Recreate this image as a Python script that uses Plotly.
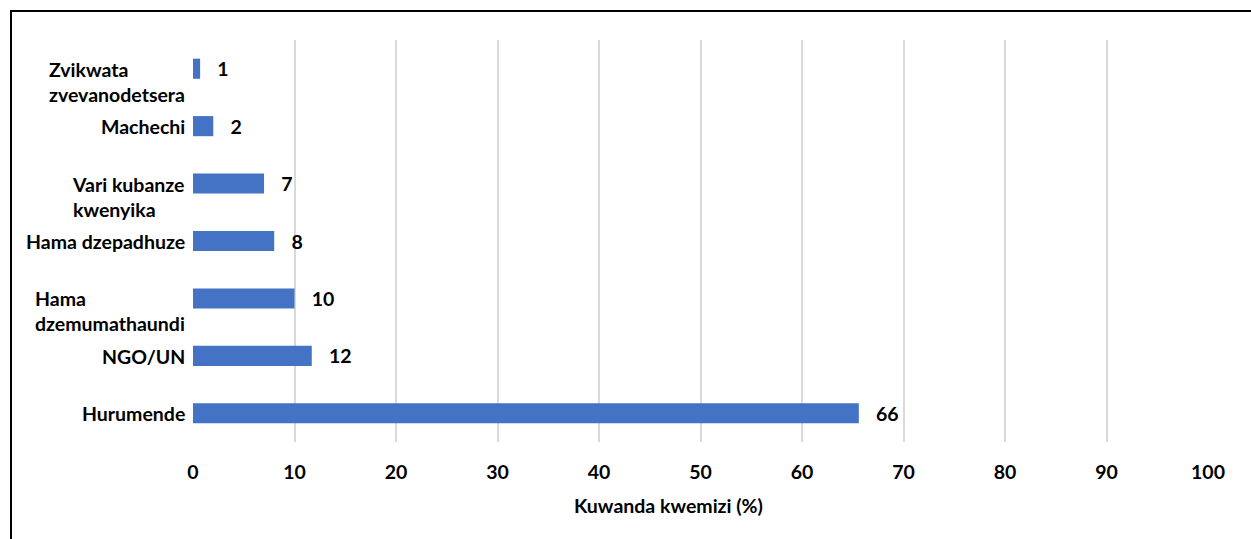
import plotly.graph_objects as go

# Categories listed bottom-to-top on the y axis
categories = [
    "Hurumende",
    "NGO/UN",
    "Hama<br>dzemumathaundi",
    "Hama dzepadhuze",
    "Vari kubanze<br>kwenyika",
    "Machechi",
    "Zvikwata<br>zvevanodetsera",
]
values = [65.6, 11.7, 10.0, 8.0, 7.0, 2.0, 0.7]
x_ticks = [0, 10, 20, 30, 40, 50, 60, 70, 80, 90, 100]
x_title = "Kuwanda kwemizi (%)"

FONT = "Lato"
FS = 19.5
BAR_BLUE = "#4472C4"
GRID = "#D9D9D9"

W, H = 1251, 539
ML, MR, MT, MB = 193, 43, 40, 97
plot_w = W - ML - MR
plot_h = H - MT - MB

bold = dict(family=FONT, size=FS, color="black", weight="bold")

fig = go.Figure()
fig.add_trace(
    go.Bar(
        y=list(range(len(categories))),
        x=values,
        orientation="h",
        width=0.35,
        marker=dict(color=BAR_BLUE, line=dict(width=0)),
        texttemplate="\u00a0\u00a0\u00a0%{x:.0f}",
        textposition="outside",
        constraintext="none",
        cliponaxis=False,
        textfont=bold,
        outsidetextfont=bold,
        hoverinfo="skip",
    )
)

# Category labels as left-aligned annotations so wrapped lines line up
annotations = []
for i, name in enumerate(categories):
    annotations.append(
        dict(
            x=-6 / plot_w,
            xref="paper",
            y=i,
            yref="y",
            text=name,
            showarrow=False,
            xanchor="right",
            yanchor="top",
            align="left",
            yshift=13,
            font=bold,
        )
    )

annotations.append(
    dict(
        x=(668 - ML) / plot_w,
        xref="paper",
        y=(H - MB - 505) / plot_h,
        yref="paper",
        text=x_title,
        showarrow=False,
        xanchor="center",
        yanchor="middle",
        font=bold,
    )
)

# Chart frame (left and top edges visible)
fig.add_shape(
    type="rect",
    xref="paper",
    yref="paper",
    x0=(11 - ML) / plot_w,
    x1=1.2,
    y0=-0.5,
    y1=(H - MB - 11) / plot_h,
    line=dict(color="black", width=2),
    fillcolor="rgba(0,0,0,0)",
    layer="below",
)

fig.update_layout(
    width=W,
    height=H,
    margin=dict(l=ML, r=MR, t=MT, b=MB),
    paper_bgcolor="white",
    plot_bgcolor="white",
    showlegend=False,
    annotations=annotations,
    xaxis=dict(
        range=[0, 100],
        tickvals=x_ticks,
        ticktext=[str(t) for t in x_ticks],
        showgrid=True,
        gridcolor=GRID,
        gridwidth=2,
        zeroline=False,
        showline=False,
        ticks="",
        ticklabelstandoff=16,
        tickfont=bold,
    ),
    yaxis=dict(
        range=[-0.5, len(categories) - 0.5],
        showticklabels=False,
        showgrid=False,
        zeroline=False,
        showline=False,
        ticks="",
    ),
)

fig.write_html("out.html")
